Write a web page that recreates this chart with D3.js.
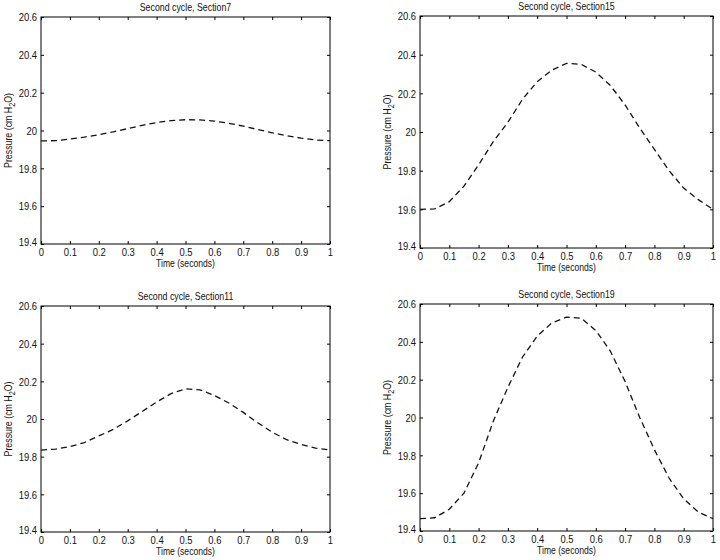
<!DOCTYPE html>
<html>
<head>
<meta charset="utf-8">
<script src="https://cdn.jsdelivr.net/npm/d3@7"></script>
<style>
  body { margin: 0; background: #fff; }
  svg text { font-family: "Liberation Sans", Arial, sans-serif; fill: #111; }
  .axis path, .axis line { stroke: #000; }
</style>
</head>
<body>
<div id="chart"></div>
<script>
// time samples (seconds)
var times = [0, 0.05, 0.1, 0.15, 0.2, 0.25, 0.3, 0.35, 0.4, 0.45, 0.5,
             0.55, 0.6, 0.65, 0.7, 0.75, 0.8, 0.85, 0.9, 0.95, 1];

// pressure (cm H2O)
var section7  = [19.945, 19.946, 19.955, 19.965, 19.978, 19.993, 20.010, 20.027, 20.042, 20.052, 20.057,
                 20.056, 20.050, 20.038, 20.023, 20.005, 19.988, 19.972, 19.960, 19.950, 19.946];
var section15 = [19.600, 19.602, 19.640, 19.720, 19.830, 19.950, 20.050, 20.170, 20.260, 20.320, 20.355,
                 20.350, 20.310, 20.240, 20.140, 20.020, 19.910, 19.800, 19.710, 19.650, 19.600];
var section11 = [19.835, 19.840, 19.853, 19.875, 19.910, 19.945, 19.990, 20.040, 20.090, 20.135, 20.160,
                 20.155, 20.125, 20.085, 20.035, 19.980, 19.930, 19.890, 19.865, 19.845, 19.835];
var section19 = [19.465, 19.470, 19.515, 19.600, 19.760, 19.980, 20.160, 20.320, 20.430, 20.500, 20.530,
                 20.525, 20.460, 20.350, 20.190, 20.000, 19.830, 19.680, 19.570, 19.500, 19.465];

var titles = ["Second cycle, Section7", "Second cycle, Section15",
              "Second cycle, Section11", "Second cycle, Section19"];
var xTicks = [0, 0.1, 0.2, 0.3, 0.4, 0.5, 0.6, 0.7, 0.8, 0.9, 1];
var yTicks = [19.4, 19.6, 19.8, 20, 20.2, 20.4, 20.6];

var width = 720, height = 560;

var svg = d3.select("#chart").append("svg")
    .attr("width", width)
    .attr("height", height);

// plot boxes: left, right, top, bottom
var panels = [
    {box: [41, 330, 17, 244],  values: section7,  title: titles[0]},
    {box: [420, 713, 16, 248], values: section15, title: titles[1]},
    {box: [41, 330, 306, 532], values: section11, title: titles[2]},
    {box: [420, 713, 304, 531], values: section19, title: titles[3]}
];

function fmt(d) { return String(+d.toFixed(1)); }

// the original lettering is condensed, squeeze text horizontally
function squeeze(sel, k) {
    sel.each(function () {
        var w = this.getComputedTextLength();
        if (w > 0) {
            d3.select(this)
                .attr("textLength", w * k)
                .attr("lengthAdjust", "spacingAndGlyphs");
        }
    });
}

panels.forEach(function (p) {
    var b = p.box;
    var x = d3.scaleLinear().domain([0, 1]).range([b[0], b[1]]);
    var y = d3.scaleLinear().domain([19.4, 20.6]).range([b[3], b[2]]);
    var g = svg.append("g");

    // frame
    g.append("rect")
        .attr("x", b[0]).attr("y", b[2])
        .attr("width", b[1] - b[0]).attr("height", b[3] - b[2])
        .attr("fill", "#fff").attr("stroke", "#000").attr("stroke-width", 1);

    // axes with inward ticks
    g.append("g").attr("class", "axis")
        .attr("transform", "translate(0," + b[3] + ")")
        .call(d3.axisBottom(x).tickValues(xTicks).tickFormat(fmt).tickSize(-3).tickPadding(4))
        .call(function (s) { s.select(".domain").remove(); });
    g.append("g").attr("class", "axis")
        .attr("transform", "translate(0," + b[2] + ")")
        .call(d3.axisTop(x).tickValues(xTicks).tickFormat("").tickSize(-3))
        .call(function (s) { s.select(".domain").remove(); });
    var yAxis = g.append("g").attr("class", "axis")
        .attr("transform", "translate(" + b[0] + ",0)")
        .call(d3.axisLeft(y).tickValues(yTicks).tickFormat(fmt).tickSize(-3).tickPadding(4))
        .call(function (s) { s.select(".domain").remove(); });
    g.append("g").attr("class", "axis")
        .attr("transform", "translate(" + b[1] + ",0)")
        .call(d3.axisRight(y).tickValues(yTicks).tickFormat("").tickSize(-3))
        .call(function (s) { s.select(".domain").remove(); });

    g.selectAll(".axis text")
        .attr("font-size", 11.5).attr("font-family", null).attr("fill", "#111")
        .call(squeeze, 0.82);

    // lowest y label sits a little above the corner, clear of the "0"
    yAxis.selectAll(".tick text").filter(function (d) { return d === 19.4; })
        .attr("dy", "0.1em");

    // the pressure curve
    var line = d3.line()
        .x(function (d, i) { return x(times[i]); })
        .y(function (d) { return y(d); });
    g.append("path")
        .datum(p.values)
        .attr("d", line)
        .attr("fill", "none")
        .attr("stroke", "#111")
        .attr("stroke-width", 1.3)
        .attr("stroke-dasharray", "6,4");

    // title
    g.append("text")
        .attr("x", (b[0] + b[1]) / 2)
        .attr("y", b[2] - 6)
        .attr("text-anchor", "middle")
        .attr("font-size", 11)
        .text(p.title)
        .call(squeeze, 0.8);

    // x label
    g.append("text")
        .attr("x", (b[0] + b[1]) / 2)
        .attr("y", b[3] + 23)
        .attr("text-anchor", "middle")
        .attr("font-size", 11)
        .text("Time (seconds)")
        .call(squeeze, 0.78);

    // y label with subscript
    var yl = g.append("text")
        .attr("transform", "translate(" + (b[0] - 29) + "," + ((b[2] + b[3]) / 2) + ") rotate(-90) scale(0.8,1)")
        .attr("text-anchor", "middle")
        .attr("font-size", 11);
    yl.append("tspan").text("Pressure (cm H");
    yl.append("tspan").attr("font-size", 9).attr("dy", 3).text("2");
    yl.append("tspan").attr("dy", -3).text("O)");
});
</script>
</body>
</html>
